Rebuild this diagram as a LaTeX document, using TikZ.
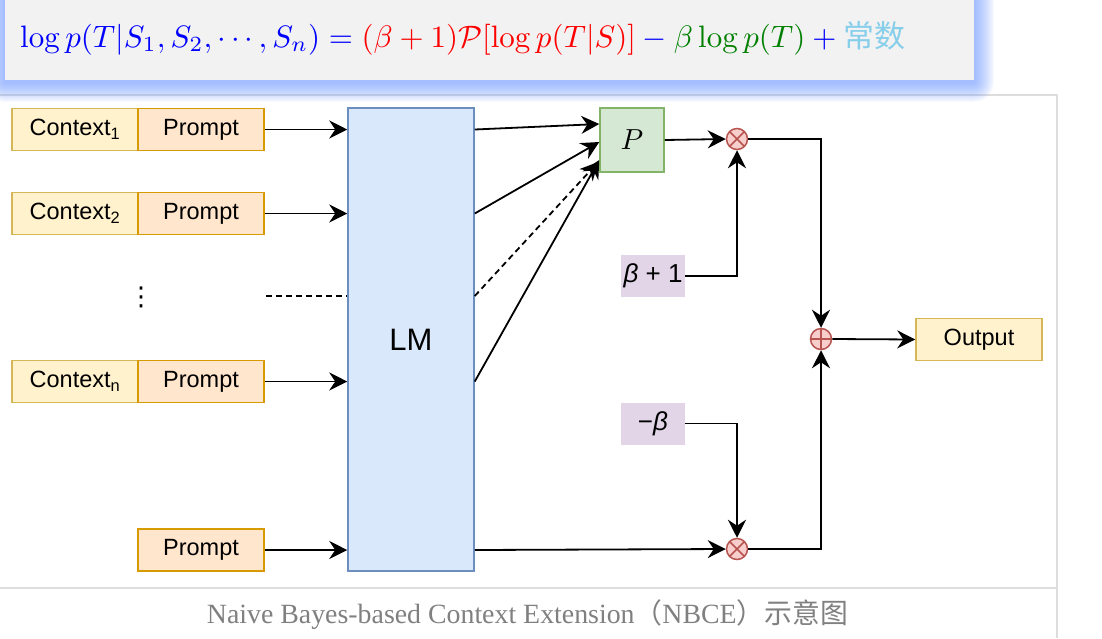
\documentclass[tikz,border=0pt]{standalone}
\usepackage{graphicx}
\usepackage[no-math]{fontspec}
\setmainfont{Liberation Sans}
\newfontfamily\capfont{Liberation Serif}
\newfontfamily\cjk{Noto Sans CJK SC}
\newfontfamily\symfont{DejaVu Sans}
\usetikzlibrary{arrows.meta,calc}
\definecolor{ctxfill}{HTML}{FFF2CC}\definecolor{ctxdraw}{HTML}{D6B656}
\definecolor{prfill}{HTML}{FFE6CC}\definecolor{prdraw}{HTML}{D79B00}
\definecolor{lmfill}{HTML}{DAE8FC}\definecolor{lmdraw}{HTML}{6C8EBF}
\definecolor{pfill}{HTML}{D5E8D4}\definecolor{pdraw}{HTML}{82B366}
\definecolor{opfill}{HTML}{F8CECC}\definecolor{opdraw}{HTML}{B85450}
\definecolor{purp}{HTML}{E1D5E7}
\definecolor{boxgray}{HTML}{F2F2F2}
\definecolor{glowc}{HTML}{6E9BFF}
\definecolor{framec}{HTML}{DDDDDD}
\definecolor{capgray}{HTML}{808080}
\definecolor{mjblue}{HTML}{0000FF}
\definecolor{mjred}{HTML}{FF0000}
\definecolor{mjgreen}{HTML}{008000}
\definecolor{mjsky}{HTML}{87CEEB}
\tikzset{
  base/.style={inner sep=0pt, line width=1.5pt, minimum height=42pt, font=\fontsize{23.5}{23.5}\selectfont},
  ctxbox/.style={base, draw=ctxdraw, fill=ctxfill, minimum width=126pt},
  prbox/.style={base, draw=prdraw, fill=prfill, minimum width=126pt},
  lmbox/.style={inner sep=0pt, line width=1.5pt, draw=lmdraw, fill=lmfill, minimum width=126pt, minimum height=463pt, font=\fontsize{31}{31}\selectfont},
  pbox/.style={inner sep=0pt, line width=1.5pt, draw=pdraw, fill=pfill, minimum width=64pt, minimum height=64pt},
  coef/.style={inner sep=0pt, fill=purp, minimum width=64pt, minimum height=42pt, font=\fontsize{26}{26}\selectfont},
  outbox/.style={base, draw=ctxdraw, fill=ctxfill, minimum width=126pt},
  opnode/.style={circle, draw=opdraw, fill=opfill, line width=1.5pt, minimum size=21pt, inner sep=0pt},
  timesop/.style={opnode, path picture={\draw[opdraw, line width=1.5pt] (path picture bounding box.north west) -- (path picture bounding box.south east) (path picture bounding box.north east) -- (path picture bounding box.south west);}},
  plusop/.style={opnode, path picture={\draw[opdraw, line width=1.5pt] (path picture bounding box.north) -- (path picture bounding box.south) (path picture bounding box.west) -- (path picture bounding box.east);}},
  arr/.style={line width=1.8pt, -{Stealth[length=18pt, width=18pt, inset=6pt]}},
  dline/.style={line width=1.8pt, dash pattern=on 6pt off 4pt},
}
\begin{document}
\begin{tikzpicture}[x=1pt, y=-1pt]
\useasboundingbox (0,0) rectangle (1102,638);
\fill[white] (0,0) rectangle (1102,638);
% figure frame
\draw[framec, line width=2pt] (0,95) -- (1057,95) -- (1057,638);
\draw[framec, line width=2pt] (0,588) -- (1057,588);
% formula box with glow
\foreach \i in {1,...,20}{
  \fill[glowc, opacity=0.045, rounded corners={\i pt}] ({5-\i},-30) rectangle ({974+\i},{82+\i});
}
\fill[boxgray] (5,-5) rectangle (974,80);
\node[anchor=west, inner sep=0pt] (formula) at (20,38) {\resizebox{885pt}{!}{$\color{mjblue}\log p(T|S_1,S_2,\cdots,S_n) = {\color{mjred}(\beta+1)\mathcal{P}[\log p(T|S)]} - {\color{mjgreen}\beta\log p(T)} + \mbox{\cjk\color{mjsky}常数}$}};

% inputs
\node[ctxbox] (c1) at (75,129.5) {Context\textsubscript{1}};
\node[prbox]  (p1) at (201,129.5) {Prompt};
\node[ctxbox] (c2) at (75,213.5) {Context\textsubscript{2}};
\node[prbox]  (p2) at (201,213.5) {Prompt};
\node[ctxbox] (cn) at (75,381.5) {Context\textsubscript{n}};
\node[prbox]  (pn) at (201,381.5) {Prompt};
\node[prbox]  (pb) at (201,550) {Prompt};
\node[inner sep=0pt, font=\symfont\fontsize{26}{26}\selectfont] (dots) at (141,297) {⋮};
\coordinate (dstart) at (266,296);

\node[lmbox] (LM) at (411,339.5) {LM};
\node[pbox] (P) at (632,140) {\scalebox{2.9}{$P$}};
\node[timesop] (m1) at (737,139) {};
\node[timesop] (m2) at (737,549) {};
\node[plusop] (add) at (821,339) {};
\node[coef] (b1) at (653,276) {{\itshape β} + 1};
\node[coef] (b2) at (653,423.5) {−{\itshape β}};
\node[outbox] (out) at (979,339.5) {Output};

% connectors into LM
\draw[arr] (p1.east) -- (p1.east -| LM.west);
\draw[arr] (p2.east) -- (p2.east -| LM.west);
\draw[arr] (pn.east) -- (pn.east -| LM.west);
\draw[arr] (pb.east) -- (pb.east -| LM.west);
\draw[dline] (dstart) -- (dstart -| LM.west);
% LM to P
\draw[arr] (LM.east |- p1.east) -- ($(P.west)+(0,-16)$);
\draw[arr] (LM.east |- p2.east) -- ($(P.west)+(0,2)$);
\draw[arr, dash pattern=on 6pt off 4pt] (LM.east |- dstart) -- ($(P.west)+(-1,22)$);
\draw[arr] (LM.east |- pn.east) -- ($(P.west)+(0,20)$);
% right part
\draw[arr] (P.east) -- (m1.west);
\draw[arr] (b1.east) -| (m1.south);
\draw[arr] (m1.east) -| (add.north);
\draw[arr] (add.east) -- (out.west);
\draw[arr] (b2.east) -| (m2.north);
\draw[arr] (LM.east |- pb.east) -- (m2.west);
\draw[arr] (m2.east) -| (add.south);

% caption
\node[inner sep=0pt] (cap) at (527.5,615) {\resizebox{641pt}{!}{\capfont\color{capgray}Naive Bayes-based Context Extension{\cjk （}NBCE{\cjk ）示意图}}};
\end{tikzpicture}
\end{document}
